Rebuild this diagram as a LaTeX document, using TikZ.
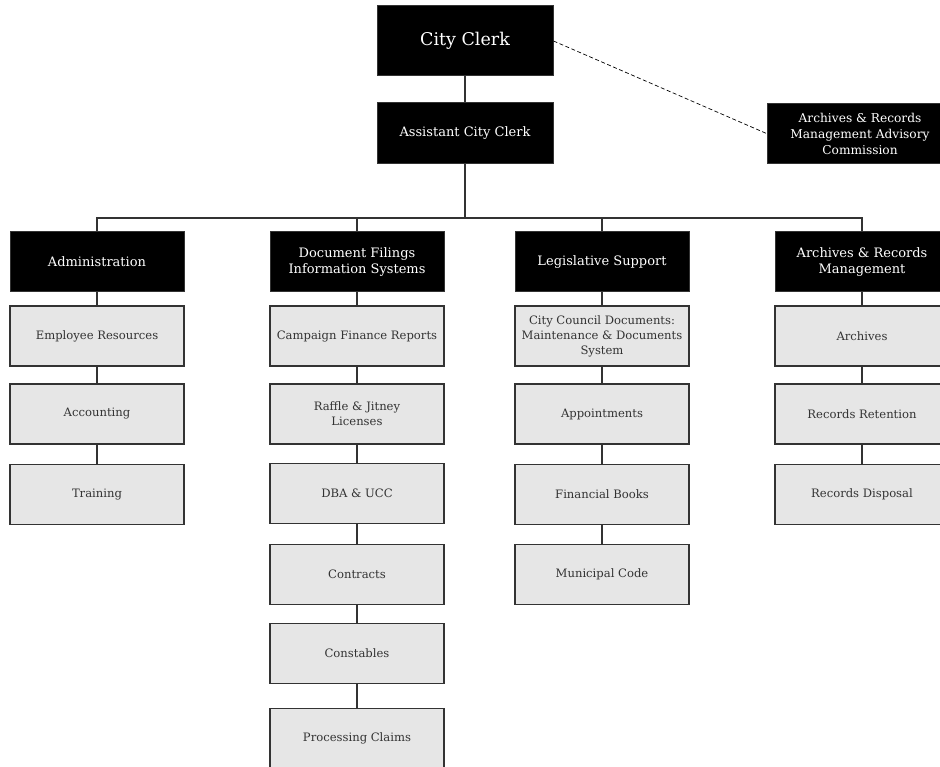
\documentclass[tikz,border=0pt]{standalone}
\usepackage{fontspec}
\setmainfont{DejaVu Serif}
\definecolor{boxgray}{HTML}{E6E6E6}
\definecolor{linegray}{HTML}{333333}
\begin{document}
\begin{tikzpicture}[x=1pt,y=-1pt,
  blackbox/.style={draw=linegray, line width=1pt, fill=black, text=white, align=center,
    inner sep=0pt, minimum width=174pt, minimum height=60pt, font=\fontsize{13}{15.5}\selectfont},
  graybox/.style={draw=linegray, line width=1.1pt, fill=boxgray, text=linegray, align=center,
    inner sep=0pt, minimum width=174pt, minimum height=60pt, font=\fontsize{11.6}{15}\selectfont},
  conn/.style={draw=linegray, line width=1.2pt},
  dashconn/.style={draw=black, line width=0.7pt, dash pattern=on 4pt off 2.5pt}]
\useasboundingbox (0,0) rectangle (940,767);
\clip (0,0) rectangle (940,767);
% top
\node[blackbox, minimum width=176pt, minimum height=70pt, font=\fontsize{17.5}{20}\selectfont] (cc) at (465,41) {City Clerk};
\node[blackbox, minimum width=176pt, minimum height=61pt] (ac) at (465,133.5) {Assistant City Clerk};
\node[blackbox, minimum width=186pt, font=\fontsize{12.2}{16}\selectfont] (adv) at (860,133.5) {Archives \& Records\\Management Advisory\\Commission};
% level 2
\node[blackbox] (adm) at (97,262) {Administration};
\node[blackbox] (dfi) at (357,262) {Document Filings\\Information Systems};
\node[blackbox] (leg) at (602,262) {Legislative Support};
\node[blackbox] (arm) at (862,262) {Archives \& Records\\Management};
% column 1
\node[graybox] (er) at (97,336) {Employee Resources};
\node[graybox] (acc) at (97,414) {Accounting};
\node[graybox] (tr) at (97,494.5) {Training};
% column 2
\node[graybox] (cfr) at (357,336) {Campaign Finance Reports};
\node[graybox] (rjl) at (357,414) {Raffle \& Jitney\\Licenses};
\node[graybox] (dba) at (357,493.5) {DBA \& UCC};
\node[graybox] (con) at (357,574.5) {Contracts};
\node[graybox] (cst) at (357,653.5) {Constables};
\node[graybox] (pc) at (357,738.5) {Processing Claims};
% column 3
\node[graybox] (ccd) at (602,336) {City Council Documents:\\Maintenance \& Documents\\System};
\node[graybox] (app) at (602,414) {Appointments};
\node[graybox] (fb) at (602,494.5) {Financial Books};
\node[graybox] (mc) at (602,574.5) {Municipal Code};
% column 4
\node[graybox] (arc) at (862,336) {Archives};
\node[graybox] (rr) at (862,414) {Records Retention};
\node[graybox] (rd) at (862,494.5) {Records Disposal};
% connectors
\coordinate (bus) at (465,218);
\draw[conn] (cc.south) -- (ac.north);
\draw[conn] (ac.south) -- (bus);
\draw[conn] (adm.north) |- (bus) -| (arm.north);
\draw[conn] (dfi.north) -- (dfi.north |- bus);
\draw[conn] (leg.north) -- (leg.north |- bus);
\draw[dashconn] (cc.east) -- (adv.west);
\draw[conn] (adm.south) -- (er.north);
\draw[conn] (er.south) -- (acc.north);
\draw[conn] (acc.south) -- (tr.north);
\draw[conn] (dfi.south) -- (cfr.north);
\draw[conn] (cfr.south) -- (rjl.north);
\draw[conn] (rjl.south) -- (dba.north);
\draw[conn] (dba.south) -- (con.north);
\draw[conn] (con.south) -- (cst.north);
\draw[conn] (cst.south) -- (pc.north);
\draw[conn] (leg.south) -- (ccd.north);
\draw[conn] (ccd.south) -- (app.north);
\draw[conn] (app.south) -- (fb.north);
\draw[conn] (fb.south) -- (mc.north);
\draw[conn] (arm.south) -- (arc.north);
\draw[conn] (arc.south) -- (rr.north);
\draw[conn] (rr.south) -- (rd.north);
\end{tikzpicture}
\end{document}
